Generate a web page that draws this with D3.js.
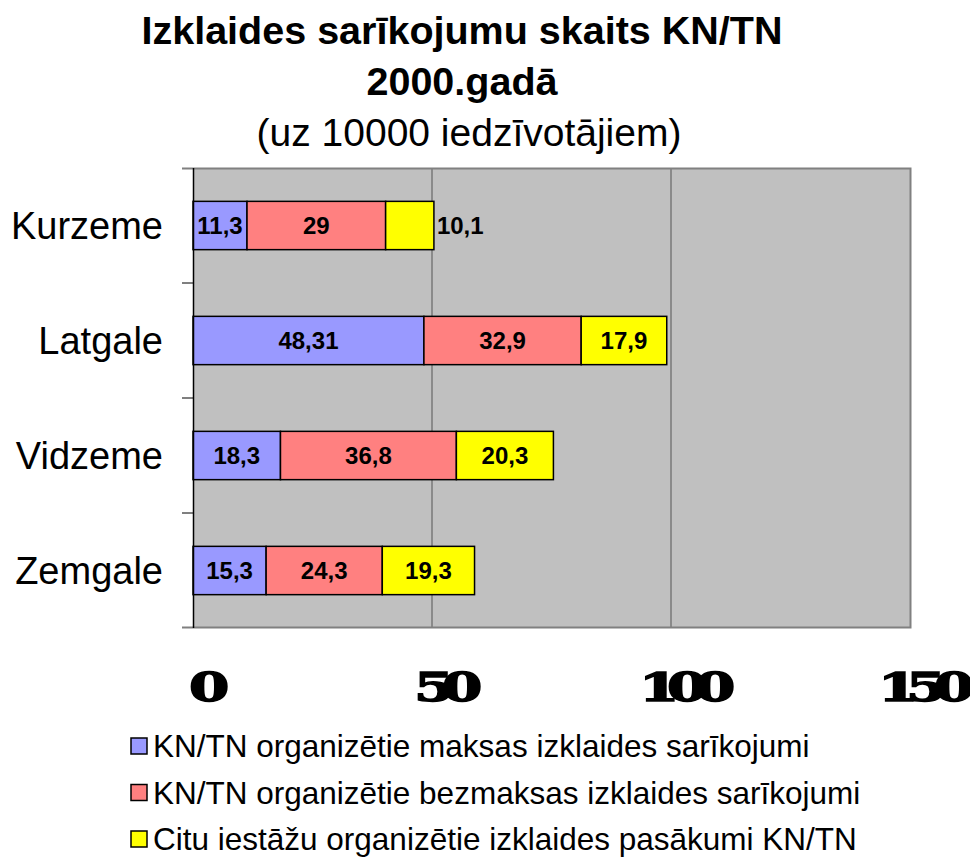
<!DOCTYPE html>
<html>
<head>
<meta charset="utf-8">
<script src="https://cdn.jsdelivr.net/npm/d3@7"></script>
<style>
  body { margin: 0; background: #fff; }
  svg { font-family: "Liberation Sans", Arial, sans-serif; }
</style>
</head>
<body>
<svg class="chart"></svg>
<script>
const regions = ['Kurzeme', 'Latgale', 'Vidzeme', 'Zemgale'];
const seriesNames = [
  'KN/TN organizētie maksas izklaides sarīkojumi',
  'KN/TN organizētie bezmaksas izklaides sarīkojumi',
  'Citu iestāžu organizētie izklaides pasākumi KN/TN'
];
const paid = [11.3, 48.31, 18.3, 15.3];
const free = [29, 32.9, 36.8, 24.3];
const other = [10.1, 17.9, 20.3, 19.3];
const xTicks = [0, 50, 100, 150];
const colors = ['#9999ff', '#ff8080', '#ffff00'];

let width = 970, height = 858;
let margin = {top: 168, right: 60, bottom: 230, left: 193};
let widthChart = width - margin.left - margin.right;
let heightChart = height - margin.top - margin.bottom;

let svg = d3.select('.chart').attr('width', width).attr('height', height);

// titles
svg.append('text').text('Izklaides sarīkojumu skaits KN/TN')
  .attr('x', 462).attr('y', 44).attr('text-anchor', 'middle')
  .attr('font-size', 39.5).attr('font-weight', 'bold');
svg.append('text').text('2000.gadā')
  .attr('x', 462).attr('y', 95).attr('text-anchor', 'middle')
  .attr('font-size', 39.5).attr('font-weight', 'bold');
svg.append('text').text('(uz 10000 iedzīvotājiem)')
  .attr('x', 469).attr('y', 146).attr('text-anchor', 'middle')
  .attr('font-size', 39);

let chart = svg.append('g')
  .attr('transform', 'translate(' + margin.left + ',' + margin.top + ')');

let x = d3.scaleLinear().domain([0, 150]).range([0, widthChart]);
let y = d3.scaleBand().domain(regions).range([0, heightChart]).paddingInner(0.58).paddingOuter(0.29);
let yBand = d3.scaleBand().domain(regions).range([0, heightChart]);

chart.append('rect')
  .attr('width', widthChart).attr('height', heightChart)
  .attr('fill', '#c0c0c0');

// gridlines
chart.selectAll('.grid').data(xTicks.slice(1, -1)).enter().append('line')
  .attr('x1', d => x(d)).attr('x2', d => x(d))
  .attr('y1', 0).attr('y2', heightChart)
  .attr('stroke', '#555').attr('stroke-width', 1);

// border: top, right, bottom
chart.append('path')
  .attr('d', 'M-11,0.5H' + (widthChart + 0.5) + 'V' + (heightChart - 0.5) + 'H-11')
  .attr('fill', 'none').attr('stroke', '#808080').attr('stroke-width', 2);

// stacked bars
let stack = regions.map((r, i) => {
  let vals = [paid[i], free[i], other[i]];
  let x0 = 0;
  return vals.map((v, k) => {
    let seg = {region: r, k: k, v: v, x0: x0, x1: x0 + v};
    x0 += v;
    return seg;
  });
});

let segs = stack.flat();
chart.selectAll('.bar').data(segs).enter().append('rect')
  .attr('x', d => x(d.x0))
  .attr('y', d => y(d.region))
  .attr('width', d => x(d.x1) - x(d.x0))
  .attr('height', y.bandwidth())
  .attr('fill', d => colors[d.k])
  .attr('stroke', '#000').attr('stroke-width', 1.5);

chart.selectAll('.lbl').data(segs).enter().append('text')
  .text(d => String(d.v).replace('.', ','))
  .attr('font-size', 24).attr('font-weight', 'bold')
  .attr('dy', '0.36em')
  .attr('y', d => y(d.region) + y.bandwidth() / 2)
  .each(function(d) {
    let t = d3.select(this);
    let w = this.getComputedTextLength();
    let segW = x(d.x1) - x(d.x0);
    if (d.k === 2 && w + 6 > segW) {
      t.attr('x', x(d.x1) + 3).attr('text-anchor', 'start');
    } else {
      t.attr('x', (x(d.x0) + x(d.x1)) / 2).attr('text-anchor', 'middle');
    }
  });

// y axis
let yAxis = chart.append('g');
yAxis.append('line').attr('x1', 0.5).attr('x2', 0.5).attr('y1', 0).attr('y2', heightChart)
  .attr('stroke', '#000').attr('stroke-width', 1.5);
yAxis.selectAll('.tick').data(regions.slice(1)).enter().append('line')
  .attr('x1', -11).attr('x2', 0)
  .attr('y1', d => yBand(d)).attr('y2', d => yBand(d))
  .attr('stroke', '#000');
yAxis.selectAll('.cat').data(regions).enter().append('text')
  .text(d => d)
  .attr('x', -30).attr('y', d => yBand(d) + yBand.bandwidth() / 2)
  .attr('dy', '0.36em').attr('text-anchor', 'end')
  .attr('font-size', 38);

// x tick labels (heavy wide serif)
chart.selectAll('.xt').data(xTicks).enter().append('text')
  .text(d => d)
  .attr('transform', d => 'translate(' + (x(d) + 10) + ',' + (heightChart + 73) + ') scale(1.45,1)')
  .attr('text-anchor', 'middle')
  .attr('font-family', '"DejaVu Serif", serif')
  .attr('font-weight', 'bold')
  .attr('font-size', 40)
  .attr('letter-spacing', -8.5)
  .attr('stroke', '#000').attr('stroke-width', 1.5);

// legend
let legend = svg.append('g').attr('transform', 'translate(131,746)');
let items = legend.selectAll('g').data(seriesNames).enter().append('g')
  .attr('transform', (d, i) => 'translate(0,' + i * 46.5 + ')');
items.append('rect')
  .attr('x', 0).attr('y', -8).attr('width', 16).attr('height', 16)
  .attr('fill', (d, i) => colors[i]).attr('stroke', '#000').attr('stroke-width', 1.5);
items.append('text').text(d => d)
  .attr('x', 22).attr('dy', '0.36em')
  .attr('font-size', 31.5);
</script>
</body>
</html>
